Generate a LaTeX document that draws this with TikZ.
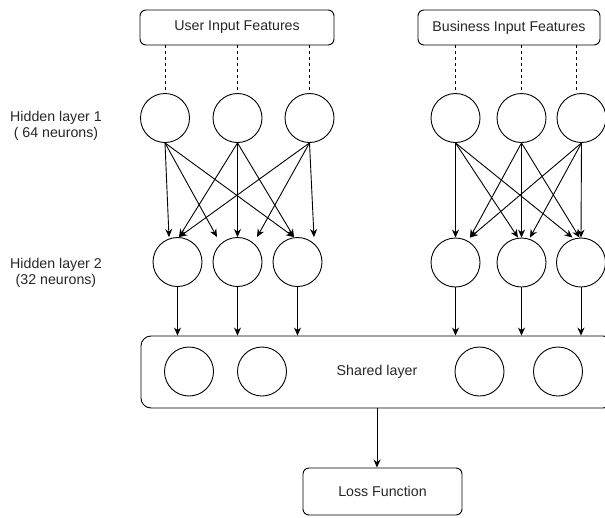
\documentclass[tikz,border=0pt]{standalone}
\usepackage{fontspec}
\setmainfont{Liberation Sans}
\usetikzlibrary{arrows.meta,calc}
\begin{document}
\begin{tikzpicture}[x=1pt,y=-1pt,
  txt/.style={text=black!85, font=\fontsize{14.2}{15.5}\selectfont},
  neuron/.style={circle, draw, line width=0.9pt, minimum size=49pt, inner sep=0pt},
  inbox/.style={draw, rounded corners=6pt, line width=0.9pt, txt, inner sep=0pt},
  link/.style={draw, line width=0.9pt, -{Stealth[length=8pt,width=7pt]}},
  feed/.style={draw, line width=0.9pt, dash pattern=on 3pt off 3pt},
]
\useasboundingbox (0,0) rectangle (605,517);
\clip (0,0) rectangle (605,517);
% input boxes
\node[inbox, minimum width=194pt, minimum height=35pt] (user) at (237,27.5) {User Input Features};
\node[inbox, minimum width=182pt, minimum height=35pt] (biz) at (509,27.5) {Business Input Features};
% labels
\node[txt, align=center] (lab1) at (56,126) {Hidden layer 1\\( 64 neurons)};
\node[txt, align=center] (lab2) at (56,273) {Hidden layer 2\\(32 neurons)};
% hidden layer 1
\node[neuron] (h1a) at (165,118) {};
\node[neuron] (h1b) at (237.5,118) {};
\node[neuron] (h1c) at (309.5,118) {};
\node[neuron] (h1d) at (455.5,118) {};
\node[neuron] (h1e) at (521.5,118) {};
\node[neuron] (h1f) at (581.5,118) {};
% hidden layer 2
\node[neuron] (h2a) at (177.5,262) {};
\node[neuron] (h2b) at (237.5,262) {};
\node[neuron] (h2c) at (297.5,262) {};
\node[neuron] (h2d) at (455.5,262.5) {};
\node[neuron] (h2e) at (521.5,262.5) {};
\node[neuron] (h2f) at (581,262.5) {};
% shared layer
\node[inbox, rounded corners=10pt, minimum width=472pt, minimum height=72pt] (shared) at (377,372) {Shared layer};
\node[neuron] (s1) at (189,371.5) {};
\node[neuron] (s2) at (262,371.5) {};
\node[neuron] (s3) at (479.5,371.5) {};
\node[neuron] (s4) at (558,371.5) {};
% loss
\node[inbox, minimum width=159pt, minimum height=47pt] (loss) at (382.5,491.5) {Loss Function};
% dashed feeds
\foreach \n in {h1a,h1b,h1c}
  \draw[feed] (user.south -| \n.north) -- (\n.north);
\foreach \n in {h1d,h1e}
  \draw[feed] (biz.south -| \n.north) -- (\n.north);
\draw[feed] ($(h1f.north |- biz.south)+(-5.5,0)$) -- ($(h1f.north)+(-5.5,0)$);
% layer 1 -> layer 2
\foreach \s/\t/\d in {h1a/h2a/-8.5, h1a/h2b/-20.5, h1a/h2c/-3.5,
                      h1b/h2a/1.5, h1b/h2b/0, h1b/h2c/-3.5,
                      h1c/h2a/1.5, h1c/h2b/19.5, h1c/h2c/16.5,
                      h1d/h2d/0, h1d/h2e/-3.5, h1d/h2f/-8.5,
                      h1e/h2d/14.5, h1e/h2e/0, h1e/h2f/-1.5,
                      h1f/h2d/14.5, h1f/h2e/8.5, h1f/h2f/0}
  \draw[link] (\s.south) -- ($(\t.north)+(\d,0)$);
% layer 2 -> shared
\foreach \n in {h2a,h2b,h2c,h2d,h2e,h2f}
  \draw[link] (\n.south) -- (\n.south |- shared.north);
% shared -> loss
\draw[link] (shared.south) -- (shared.south |- loss.north);
\end{tikzpicture}
\end{document}
